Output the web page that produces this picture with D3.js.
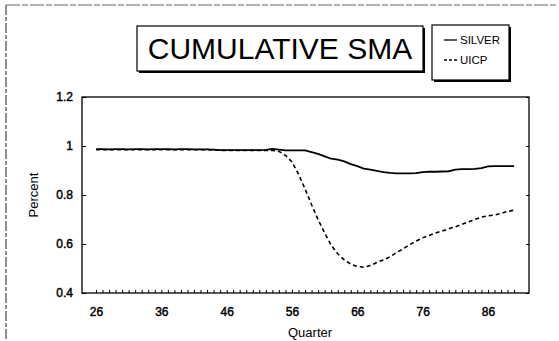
<!DOCTYPE html>
<html>
<head>
<meta charset="utf-8">
<script src="https://cdn.jsdelivr.net/npm/d3@7"></script>
<style>
  html, body { margin: 0; padding: 0; background: #fff; }
  svg { display: block; }
  text { font-family: "Liberation Sans", Arial, sans-serif; fill: #000; }
</style>
</head>
<body>
<script>
// ---- data ----
const title = "CUMULATIVE SMA";
const seriesNames = ["SILVER", "UICP"];
const quarters = [26,27,28,29,30,31,32,33,34,35,36,37,38,39,40,41,42,43,44,45,46,47,48,49,50,51,52,53,54,55,56,57,58,59,60,61,62,63,64,65,66,67,68,69,70,71,72,73,74,75,76,77,78,79,80,81,82,83,84,85,86,87,88,89,90];
const silver = [0.987,0.987,0.986,0.987,0.987,0.986,0.987,0.987,0.986,0.987,0.987,0.987,0.986,0.987,0.987,0.986,0.986,0.986,0.985,0.983,0.983,0.983,0.983,0.983,0.983,0.983,0.984,0.988,0.985,0.982,0.982,0.982,0.982,0.975,0.968,0.958,0.948,0.944,0.937,0.926,0.918,0.908,0.904,0.898,0.893,0.890,0.888,0.888,0.888,0.889,0.893,0.895,0.895,0.896,0.897,0.904,0.906,0.906,0.907,0.910,0.917,0.918,0.918,0.918,0.918];
const uicp = [0.985,0.985,0.985,0.985,0.985,0.985,0.985,0.985,0.985,0.985,0.985,0.985,0.985,0.985,0.985,0.985,0.985,0.985,0.984,0.982,0.982,0.982,0.982,0.982,0.982,0.982,0.982,0.982,0.978,0.962,0.935,0.885,0.825,0.760,0.700,0.645,0.595,0.560,0.535,0.518,0.508,0.505,0.512,0.525,0.535,0.548,0.565,0.580,0.597,0.612,0.625,0.635,0.645,0.653,0.662,0.670,0.680,0.690,0.700,0.710,0.715,0.718,0.725,0.733,0.738];
const xTickValues = [26,36,46,56,66,76,86];
const yTickValues = [0.4,0.6,0.8,1,1.2];
const xTitle = "Quarter";
const yTitle = "Percent";

// ---- layout ----
const W = 559, H = 341;
const plot = {left: 82, top: 97, right: 529, bottom: 293};

const svg = d3.select("body").append("svg").attr("width", W).attr("height", H);

// outer frame (scanned, faint)
svg.append("line").attr("x1", 6).attr("y1", 5).attr("x2", 556).attr("y2", 5)
  .attr("stroke", "#666").attr("stroke-width", 1).attr("stroke-dasharray", "14,2,6,2");
svg.append("line").attr("x1", 6).attr("y1", 5).attr("x2", 6).attr("y2", 341)
  .attr("stroke", "#555").attr("stroke-width", 1.3).attr("stroke-dasharray", "10,2,4,2");

const x = d3.scaleLinear().domain([23.86, 92.28]).range([plot.left, plot.right]);
const y = d3.scaleLinear().domain([0.4, 1.2]).range([plot.bottom, plot.top]);

// plot border
svg.append("rect").attr("x", plot.left).attr("y", plot.top)
  .attr("width", plot.right - plot.left).attr("height", plot.bottom - plot.top)
  .attr("fill", "none").attr("stroke", "#000").attr("stroke-width", 1.3);

// x axis: minor inward ticks at every quarter, labels at major
const xAxis = d3.axisBottom(x).tickValues(quarters).tickSize(-3).tickFormat("");
const gx = svg.append("g").attr("transform", `translate(0,${plot.bottom})`).call(xAxis);
gx.select(".domain").remove();
gx.selectAll("line").attr("stroke", "#000").attr("stroke-width", 1);

const tickFont = sel => sel.attr("font-size", 12).attr("font-weight", "normal")
  .attr("stroke", "#000").attr("stroke-width", 0.45)
  .attr("font-family", "'Liberation Sans', Arial, sans-serif");

const xLab = d3.axisBottom(x).tickValues(xTickValues).tickSize(0).tickPadding(14).tickFormat(d3.format("d"));
const gxl = svg.append("g").attr("transform", `translate(0,${plot.bottom})`).call(xLab);
gxl.select(".domain").remove();
gxl.selectAll("text").call(tickFont);

// y axis
const yAxis = d3.axisLeft(y).tickValues(yTickValues).tickSize(-4).tickPadding(9)
  .tickFormat(d => d3.format("")(d));
const gy = svg.append("g").attr("transform", `translate(${plot.left},0)`).call(yAxis);
gy.select(".domain").remove();
gy.selectAll("line").attr("stroke", "#000");
gy.selectAll("text").call(tickFont);

// right side small ticks
const yRight = d3.axisRight(y).tickValues(yTickValues).tickSize(-3).tickFormat("");
const gyr = svg.append("g").attr("transform", `translate(${plot.right},0)`).call(yRight);
gyr.select(".domain").remove();
gyr.selectAll("line").attr("stroke", "#000");

// axis titles
svg.append("text").attr("x", (x(26) + x(90)) / 2 + 5).attr("y", 337)
  .attr("text-anchor", "middle").attr("font-size", 13).text(xTitle);
svg.append("text").attr("transform", `translate(38,${(plot.top + plot.bottom) / 2}) rotate(-90)`)
  .attr("text-anchor", "middle").attr("font-size", 13).text(yTitle);

// lines
const line = d3.line().x((d, i) => x(quarters[i])).y(d => y(d));
svg.append("path").datum(uicp).attr("d", line).attr("fill", "none")
  .attr("stroke", "#000").attr("stroke-width", 1.6).attr("stroke-dasharray", "4,3");
svg.append("path").datum(silver).attr("d", line).attr("fill", "none")
  .attr("stroke", "#000").attr("stroke-width", 1.8);

// title box with shadow
const tb = {x: 137, y: 26, w: 286, h: 45};
svg.append("rect").attr("x", tb.x + 2).attr("y", tb.y + 2).attr("width", tb.w).attr("height", tb.h).attr("fill", "#000");
svg.append("rect").attr("x", tb.x).attr("y", tb.y).attr("width", tb.w).attr("height", tb.h)
  .attr("fill", "#fff").attr("stroke", "#000").attr("stroke-width", 1.2);
svg.append("text").attr("x", tb.x + tb.w / 2).attr("y", tb.y + 33)
  .attr("text-anchor", "middle").attr("font-size", 30).text(title);

// legend box with shadow
const lb = {x: 432, y: 25, w: 77, h: 55};
svg.append("rect").attr("x", lb.x + 2).attr("y", lb.y + 2).attr("width", lb.w).attr("height", lb.h).attr("fill", "#000");
svg.append("rect").attr("x", lb.x).attr("y", lb.y).attr("width", lb.w).attr("height", lb.h)
  .attr("fill", "#fff").attr("stroke", "#000").attr("stroke-width", 1.2);
const legendY = [lb.y + 15, lb.y + 35];
seriesNames.forEach((name, i) => {
  svg.append("line").attr("x1", lb.x + 12).attr("x2", lb.x + 25)
    .attr("y1", legendY[i]).attr("y2", legendY[i])
    .attr("stroke", "#000").attr("stroke-width", 1.3)
    .attr("stroke-dasharray", i === 1 ? "3,2" : null);
  svg.append("text").attr("x", lb.x + 28).attr("y", legendY[i] + 4)
    .attr("font-size", 11.5).text(name);
});
</script>
</body>
</html>
